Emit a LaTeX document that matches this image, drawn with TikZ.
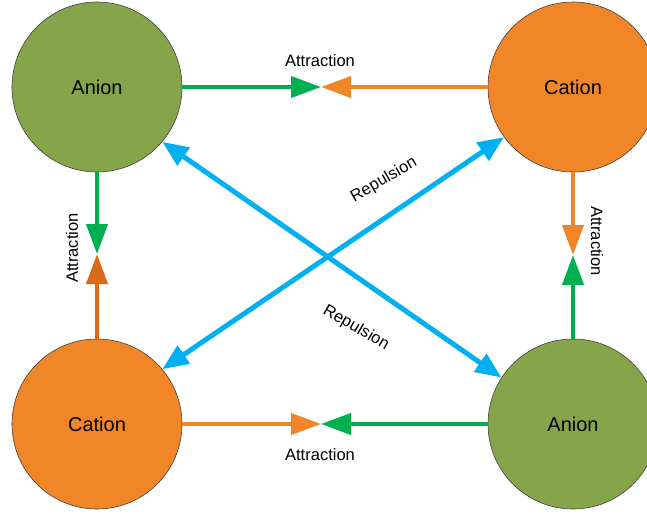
\documentclass[tikz,border=0pt]{standalone}
\usepackage{fontspec}
\setmainfont{Liberation Sans}
\usetikzlibrary{arrows.meta}
\definecolor{anionfill}{RGB}{134,164,74}
\definecolor{cationfill}{RGB}{240,134,40}
\definecolor{attrgreen}{RGB}{0,176,80}
\definecolor{attrorange}{RGB}{240,134,40}
\definecolor{darkorange}{RGB}{218,106,22}
\definecolor{repblue}{RGB}{0,176,240}
\tikzset{ion/.style={circle,draw=black!75,line width=0.6pt,minimum size=170pt,inner sep=0pt,font=\fontsize{20}{24}\selectfont},
  anion/.style={ion,fill=anionfill},
  cation/.style={ion,fill=cationfill},
  attr/.style={-{Triangle[length=30pt,width=21pt]},line width=4pt},
  rep/.style={{Triangle[length=26pt,width=21pt]}-{Triangle[length=26pt,width=21pt]},line width=5pt,repblue},
  lbl/.style={font=\fontsize{16.5}{20}\selectfont}}

\begin{document}
\begin{tikzpicture}[x=1pt,y=-1pt]
\useasboundingbox (0,0) rectangle (647,514);
\node[anion] (anionTL) at (97,87) {Anion};
\node[cation] (cationTR) at (573,87) {Cation};
\node[cation] (cationBL) at (97,424) {Cation};
\node[anion] (anionBR) at (573,424) {Anion};
\coordinate (topmid) at (321,87);
\coordinate (botmid) at (321,424);
\coordinate (leftmid) at (97,254);
\coordinate (rightmid) at (573,255);
% attraction
\draw[attr,attrgreen] (anionTL.east)--(topmid);
\draw[attr,attrorange] (cationTR.west)--(topmid);
\draw[attr,attrgreen] (anionTL.south)--(leftmid);
\draw[attr,darkorange] (cationBL.north)--(leftmid);
\draw[attr,attrorange] (cationTR.south)--(rightmid);
\draw[attr,attrgreen] (anionBR.north)--(rightmid);
\draw[attr,attrorange] (cationBL.east)--(botmid);
\draw[attr,attrgreen] (anionBR.west)--(botmid);
\node[lbl] (ltop) at (320,61) {Attraction};
\node[lbl,rotate=90] (lleft) at (72,248) {Attraction};
\node[lbl,rotate=-90] (lright) at (597,241) {Attraction};
\node[lbl] (lbot) at (320,455) {Attraction};
% repulsion
\draw[rep] (anionTL.-40)--(anionBR.147);
\draw[rep] (cationBL.40)--(cationTR.216);
\node[lbl,rotate=30] (rupper) at (384,180) {Repulsion};
\node[lbl,rotate=-30] (rlower) at (356,328) {Repulsion};
\end{tikzpicture}
\end{document}
